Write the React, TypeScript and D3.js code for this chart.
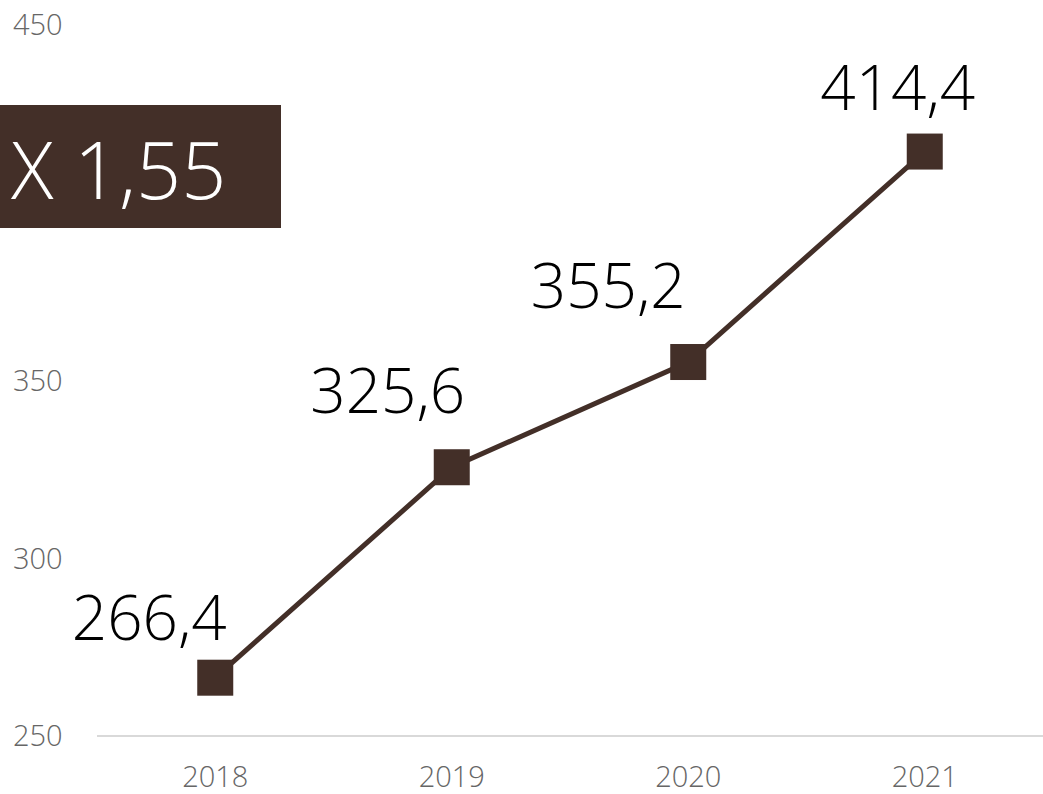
import { useMemo } from 'react';
import * as d3 from 'd3';

const WIDTH = 1043;
const HEIGHT = 794;
const BROWN = '#432f28';
const FONT = '"Open Sans", Lato, sans-serif';

const years = ['2018', '2019', '2020', '2021'];
const values = [266.4, 325.6, 355.2, 414.4];
const valueLabels = ['266,4', '325,6', '355,2', '414,4'];
// label nudges relative to each point (dx, dy of baseline)
const labelOffsets: [number, number][] = [
    [-66, -38],
    [-64, -54],
    [-80, -54],
    [-27, -42],
];
// 400 sits under the growth box in the original, so it is not drawn
const yTicks = [250, 300, 350, 450];
const growthLabel = 'X 1,55';

const margin = { top: 25, right: 0, bottom: 58, left: 97 };

export default function App() {
    const xScale = useMemo(
        () => d3.scaleBand<string>().domain(years).range([margin.left, WIDTH - margin.right]),
        []
    );
    const yScale = useMemo(
        () => d3.scaleLinear().domain([250, 450]).range([HEIGHT - margin.bottom, margin.top]),
        []
    );
    const cx = (y: string) => (xScale(y) ?? 0) + xScale.bandwidth() / 2;

    const linePath = d3
        .line<number>()
        .x((_, i) => cx(years[i]))
        .y((d) => yScale(d))(values);

    const markerSize = 36;

    return (
        <svg
            width={WIDTH}
            height={HEIGHT}
            viewBox={`0 0 ${WIDTH} ${HEIGHT}`}
            style={{ position: 'absolute', left: 0, top: 0, fontFamily: FONT }}
        >
            <rect width={WIDTH} height={HEIGHT} fill="#fff" />
            {/* y tick labels */}
            {yTicks.map((t) => (
                <text
                    key={t}
                    x={13}
                    y={yScale(t)}
                    dy="0.36em"
                    fontSize={29}
                    fontWeight={300}
                    fill="#666"
                >
                    {t}
                </text>
            ))}
            {/* baseline */}
            <line
                x1={margin.left}
                x2={WIDTH - margin.right}
                y1={yScale(250)}
                y2={yScale(250)}
                stroke="#d9d9d9"
                strokeWidth={2}
            />
            {/* x labels */}
            {years.map((y) => (
                <text
                    key={y}
                    x={cx(y)}
                    y={787}
                    textAnchor="middle"
                    fontSize={29}
                    fontWeight={300}
                    fill="#666"
                >
                    {y}
                </text>
            ))}
            <rect x={0} y={105} width={281} height={123} fill={BROWN} />
            <text x={11} y={199} fontSize={79} fontWeight={300} fill="#fff">
                {growthLabel}
            </text>
            <path d={linePath ?? ''} fill="none" stroke={BROWN} strokeWidth={5} />
            {values.map((v, i) => (
                <rect
                    key={years[i]}
                    x={cx(years[i]) - markerSize / 2}
                    y={yScale(v) - markerSize / 2}
                    width={markerSize}
                    height={markerSize}
                    fill={BROWN}
                />
            ))}
            {values.map((v, i) => (
                <text
                    key={`l${years[i]}`}
                    x={cx(years[i]) + labelOffsets[i][0]}
                    y={yScale(v) + labelOffsets[i][1]}
                    textAnchor="middle"
                    fontSize={62}
                    fontWeight={300}
                    fill="#000"
                >
                    {valueLabels[i]}
                </text>
            ))}
        </svg>
    );
}
